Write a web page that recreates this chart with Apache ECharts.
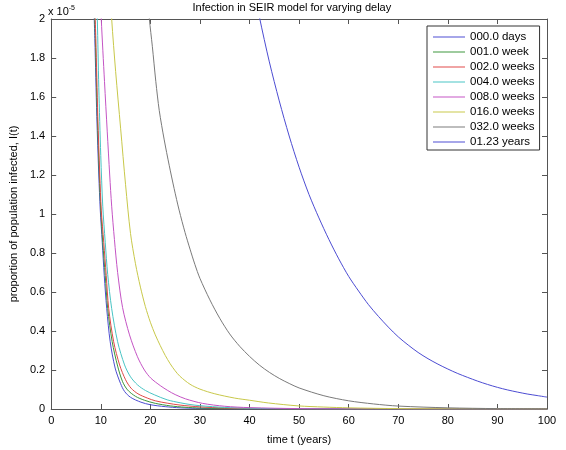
<!DOCTYPE html>
<html>
<head>
<meta charset="utf-8">
<script src="https://cdn.jsdelivr.net/npm/echarts@6/dist/echarts.min.js"></script>
<style>html,body{margin:0;padding:0;background:#fff;}#c{width:566px;height:450px;}</style>
</head>
<body>
<div id="c"></div>
<script>
// values in units of 1e-5
const seriesNames = ['000.0 days','001.0 week','002.0 weeks','004.0 weeks','008.0 weeks','016.0 weeks','032.0 weeks','01.23 years'];
const xTicks = [0,10,20,30,40,50,60,70,80,90,100];
const yTicks = [0,0.2,0.4,0.6,0.8,1,1.2,1.4,1.6,1.8,2];

const d000days = [[8.5,2.15],[8.8,1.9],[9.2,1.5],[9.6,1.2],[9.9,1.02],[10.3,0.855],[10.7,0.685],[11.2,0.515],[11.9,0.345],[12.9,0.21],[14,0.13],[14.8,0.09],[16,0.06],[18.1,0.035],[20,0.022],[23,0.012],[26,0.006],[30,0.003],[40,0.0008],[60,0.0001],[100,0]];
const d001week = [[8.6,2.15],[8.9,1.9],[9.3,1.5],[9.7,1.2],[10.0,1.02],[10.4,0.855],[10.9,0.685],[11.4,0.515],[12.3,0.345],[13.4,0.22],[14.4,0.14],[15.4,0.098],[17,0.065],[18.8,0.045],[21,0.029],[24,0.016],[27,0.009],[30,0.005],[40,0.0012],[60,0.0002],[100,0]];
const d002weeks = [[8.7,2.15],[9.0,1.9],[9.4,1.5],[9.8,1.2],[10.1,1.02],[10.6,0.855],[11.1,0.685],[11.6,0.515],[12.6,0.345],[13.8,0.226],[15,0.15],[16.1,0.107],[17.5,0.078],[19.4,0.056],[21,0.042],[23.4,0.03],[26,0.02],[30,0.011],[35,0.005],[40,0.0025],[50,0.0006],[100,0]];
const d004weeks = [[9.0,2.2],[9.3,2.0],[9.6,1.65],[10.0,1.3],[10.4,1.04],[10.9,0.855],[11.4,0.69],[12.2,0.515],[13.4,0.345],[14.8,0.226],[16,0.165],[17.4,0.124],[19,0.095],[20.8,0.073],[23.4,0.047],[26,0.032],[28,0.023],[30,0.017],[35,0.008],[40,0.004],[50,0.001],[100,0]];
const d008weeks = [[9.8,2.2],[10.1,2.0],[10.75,1.68],[11.3,1.425],[11.8,1.2],[12.2,1.04],[12.75,0.87],[13.4,0.7],[14.4,0.52],[15.8,0.38],[17.4,0.268],[18.8,0.2],[20.1,0.158],[22,0.12],[23.5,0.095],[25,0.074],[27.1,0.052],[30.5,0.029],[35,0.014],[40,0.007],[50,0.002],[60,0.0007],[100,0]];
const d016weeks = [[11.9,2.15],[12.2,2.0],[13,1.73],[14,1.44],[15,1.15],[16,0.9],[17,0.745],[18,0.625],[19,0.525],[20,0.445],[21,0.38],[22,0.325],[23,0.275],[24,0.232],[25,0.196],[26,0.167],[28,0.127],[30,0.102],[33,0.078],[37,0.056],[40,0.045],[43.8,0.031],[49.8,0.016],[55,0.01],[60,0.006],[70,0.002],[80,0.001],[100,0.0002]];
const d032weeks = [[19.5,2.1],[19.8,2.0],[20.4,1.86],[21.1,1.68],[21.8,1.53],[22.8,1.38],[23.8,1.25],[24.8,1.13],[25.8,1.02],[27,0.905],[28,0.82],[29,0.74],[30,0.67],[32,0.56],[34,0.465],[36,0.385],[38,0.322],[40,0.27],[42,0.225],[44,0.188],[46,0.157],[48,0.131],[50,0.108],[55,0.068],[60,0.042],[65,0.026],[70,0.015],[80,0.006],[90,0.002],[100,0.001]];
const d123years = [[40,2.27],[42,2.01],[44,1.78],[46,1.58],[48,1.40],[50,1.24],[52,1.10],[54,0.98],[56,0.87],[58,0.77],[60,0.68],[62,0.605],[64,0.535],[66,0.475],[68,0.42],[70,0.37],[72,0.328],[74,0.29],[76,0.258],[78,0.23],[80,0.205],[82,0.182],[84,0.162],[86,0.143],[88,0.126],[90,0.111],[92,0.098],[94,0.087],[96,0.077],[98,0.069],[100,0.061]];

const allData = [d000days,d001week,d002weeks,d004weeks,d008weeks,d016weeks,d032weeks,d123years];
const colors = ['#4c4cd2','#3c963c','#e04848','#48c4c4','#c454c4','#c8c84a','#7a7a7a','#4c4cd2'];

const FONT = 'Liberation Sans, Arial, sans-serif';
const chart = echarts.init(document.getElementById('c'), null, {renderer:'canvas'});
const fmt = v => String(Number(v.toFixed(1)));
const axisLineStyle = {color:'#555', width:1};
const series = allData.map((d,i)=>({
  name: seriesNames[i], type:'line', data:d, symbol:'none', showSymbol:false,
  smooth:0.3, lineStyle:{width:1, color:colors[i]}, itemStyle:{color:colors[i]}, clip:true, z:2+i
}));
chart.setOption({
  animation:false,
  backgroundColor:'#fff',
  textStyle:{fontFamily:FONT},
  grid:{left:48, right:19, top:19, bottom:39},
  legend:{
    orient:'vertical', left:427, top:26, padding:[5,5,2,6],
    borderColor:'#333', borderWidth:1, backgroundColor:'#fff',
    itemWidth:32, itemHeight:12, itemGap:3,
    textStyle:{fontSize:11.5, lineHeight:12, color:'#000', fontFamily:FONT},
    data: seriesNames.map(n=>({name:n, icon:'path://M0,5 L32,5 L32,6 L0,6 Z'})),
    selectedMode:false, z:20
  },
  xAxis:[
    {type:'value', min:0, max:100, interval:10, position:'bottom',
     axisLine:{show:true, onZero:false, lineStyle:axisLineStyle},
     axisTick:{show:true, inside:true, length:5, lineStyle:axisLineStyle},
     axisLabel:{fontSize:11, color:'#000', margin:6, fontFamily:FONT},
     splitLine:{show:false},
     name:'time t (years)', nameLocation:'middle', nameGap:25,
     nameTextStyle:{fontSize:11, color:'#000', fontFamily:FONT}},
    {type:'value', min:0, max:100, interval:10, position:'top',
     axisLine:{show:true, onZero:false, lineStyle:axisLineStyle},
     axisTick:{show:true, inside:true, length:5, lineStyle:axisLineStyle},
     axisLabel:{show:false}, splitLine:{show:false}}
  ],
  yAxis:[
    {type:'value', min:0, max:2, interval:0.2, position:'left',
     axisLine:{show:true, onZero:false, lineStyle:axisLineStyle},
     axisTick:{show:true, inside:true, length:5, lineStyle:axisLineStyle},
     axisLabel:{fontSize:11, color:'#000', margin:6, formatter:fmt, fontFamily:FONT},
     splitLine:{show:false},
     name:'proportion of population infected, I(t)', nameLocation:'middle', nameGap:30, nameRotate:90,
     nameTextStyle:{fontSize:11, color:'#000', fontFamily:FONT}},
    {type:'value', min:0, max:2, interval:0.2, position:'right',
     axisLine:{show:true, onZero:false, lineStyle:axisLineStyle},
     axisTick:{show:true, inside:true, length:5, lineStyle:axisLineStyle},
     axisLabel:{show:false}, splitLine:{show:false}}
  ],
  graphic:[
    {type:'text', left:297.5 - 105, top:2, style:{text:'Infection in SEIR model for varying delay', fontSize:11, fill:'#000', fontFamily:FONT}},
    {type:'text', left:48, top:5, style:{text:'x 10{s|-5}', fontSize:11, fill:'#000', fontFamily:FONT, rich:{s:{fontSize:7, verticalAlign:'top', padding:[0,0,6,0], fill:'#000'}}}}
  ],
  series: series
});
</script>
</body>
</html>
